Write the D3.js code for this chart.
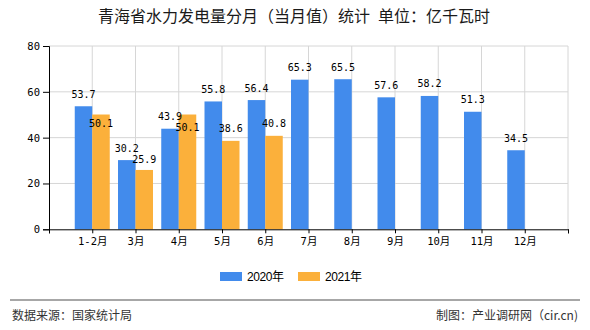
<!DOCTYPE html>
<html>
<head>
<meta charset="utf-8">
<script src="https://cdn.jsdelivr.net/npm/d3@7"></script>
<style>
html,body{margin:0;padding:0;background:#fff;}
svg{display:block;}
</style>
</head>
<body>
<svg id="chart" width="590" height="330"></svg>
<script>
const categories = ["1-2月","3月","4月","5月","6月","7月","8月","9月","10月","11月","12月"];
const seriesNames = ["2020年","2021年"];
const values2020 = [53.7,30.2,43.9,55.8,56.4,65.3,65.5,57.6,58.2,51.3,34.5];
const values2021 = [50.1,25.9,50.1,38.6,40.8,null,null,null,null,null,null];
const yTicks = [0,20,40,60,80];
const colors = ["#428bec","#fbb03b"];
const titleText = "青海省水力发电量分月（当月值）统计\u2002单位：亿千瓦时";
const sourceText = "数据来源：国家统计局";
const creditText = "制图：产业调研网（cir.cn)";

const svg = d3.select("#chart");
const L = 49, R = 568, T = 46, B = 229.3;
const y = d3.scaleLinear().domain([0,80]).range([B,T]);
const x = d3.scaleLinear().domain([0,categories.length+1]).range([L,R]);
const sub = d3.scaleBand().domain(seriesNames).range([-17.5,17.5]).padding(0);
const numFont = "'DejaVu Sans Mono','Noto Sans CJK SC',monospace";

// title
svg.append("text").attr("x",294).attr("y",22).attr("text-anchor","middle")
  .attr("font-family","'Noto Sans CJK SC',sans-serif").attr("font-size",16)
  .attr("fill","#1a1a1a").text(titleText);

// grid
const grid = svg.append("g");
grid.selectAll("line.h").data(yTicks.filter(d=>d>0)).join("line")
  .attr("x1",L).attr("x2",R).attr("y1",d=>y(d)).attr("y2",d=>y(d))
  .attr("stroke","#d6d6d6").attr("stroke-width",1);
grid.selectAll("line.v").data(d3.range(1,categories.length+2)).join("line")
  .attr("x1",d=>x(d)).attr("x2",d=>x(d)).attr("y1",T).attr("y2",B)
  .attr("stroke","#d6d6d6").attr("stroke-width",1);

// bars
const series = [values2020, values2021];
series.forEach((vals,si)=>{
  svg.append("g").selectAll("rect").data(vals.map((v,i)=>({v,i})).filter(d=>d.v!=null)).join("rect")
    .attr("x",d=>x(d.i+1)+sub(seriesNames[si]))
    .attr("width",sub.bandwidth())
    .attr("y",d=>y(d.v))
    .attr("height",d=>B-y(d.v))
    .attr("fill",colors[si]);
});

// value labels with simple collision avoidance
const lab = svg.append("g").attr("font-family",numFont).attr("font-size",10).attr("fill","#000").attr("text-anchor","middle");
const charW = 6.02, capH = 7;
const placed = [];
values2020.forEach((v,i)=>{
  const cx = x(i+1)+sub("2020年")+sub.bandwidth()/2;
  const by = y(v)-8.5;
  const txt = v.toFixed(1);
  placed[i] = {x0:cx-txt.length*charW/2, x1:cx+txt.length*charW/2, top:by-capH, bot:by};
  lab.append("text").attr("x",cx).attr("y",by).text(txt);
});
values2021.forEach((v,i)=>{
  if(v==null) return;
  const cx = x(i+1)+sub("2021年")+sub.bandwidth()/2;
  const txt = v.toFixed(1);
  let by = y(v)-8.5;
  const w = txt.length*charW;
  const b = placed[i];
  const hOverlap = (cx-w/2) < b.x1 && (cx+w/2) > b.x0;
  if(hOverlap){
    const gap = (by-capH) - b.bot;
    if(gap < 2 && gap > -20) by = y(v)+12;
    else if(gap < 4) by += 4-gap;
  }
  lab.append("text").attr("x",cx).attr("y",by).text(txt);
});

// axes
const xAxis = d3.axisBottom(x).tickValues(d3.range(0,categories.length+2))
  .tickFormat(d=> (d>=1 && d<=categories.length) ? categories[d-1] : "")
  .tickSize(4).tickPadding(4);
const gx = svg.append("g").attr("transform",`translate(0,${B})`).call(xAxis);
gx.select(".domain").attr("stroke","#000");
gx.selectAll(".tick line").attr("stroke","#000");
gx.selectAll("text").attr("font-family",numFont).attr("font-size",10.5).attr("fill","#000");

const yAxis = d3.axisLeft(y).tickValues(yTicks).tickSize(6).tickPadding(3).tickFormat(d3.format("d"));
const gy = svg.append("g").attr("transform",`translate(${L},0)`).call(yAxis);
gy.select(".domain").attr("stroke","#000");
gy.selectAll(".tick line").attr("stroke","#000");
gy.selectAll("text").attr("font-family",numFont).attr("font-size",10.5).attr("fill","#000");

// legend
const legX = [220,298];
const leg = svg.append("g");
seriesNames.forEach((n,i)=>{
  leg.append("rect").attr("x",legX[i]).attr("y",272).attr("width",22).attr("height",9).attr("fill",colors[i]);
  leg.append("text").attr("x",legX[i]+27).attr("y",281)
    .attr("font-family","'Liberation Sans','Noto Sans CJK SC',sans-serif").attr("font-size",12)
    .attr("letter-spacing",-0.4).attr("fill","#000").text(n);
});

// footer
svg.append("line").attr("x1",10).attr("x2",580).attr("y1",300).attr("y2",300)
  .attr("stroke","#8a8a8a").attr("stroke-width",1.5);
svg.append("text").attr("x",12).attr("y",320)
  .attr("font-family","'Noto Sans CJK SC',sans-serif").attr("font-size",12).attr("fill","#333").text(sourceText);
svg.append("text").attr("x",578).attr("y",320).attr("text-anchor","end")
  .attr("font-family","'Noto Sans CJK SC',sans-serif").attr("font-size",12).attr("fill","#333").text(creditText);
</script>
</body>
</html>
